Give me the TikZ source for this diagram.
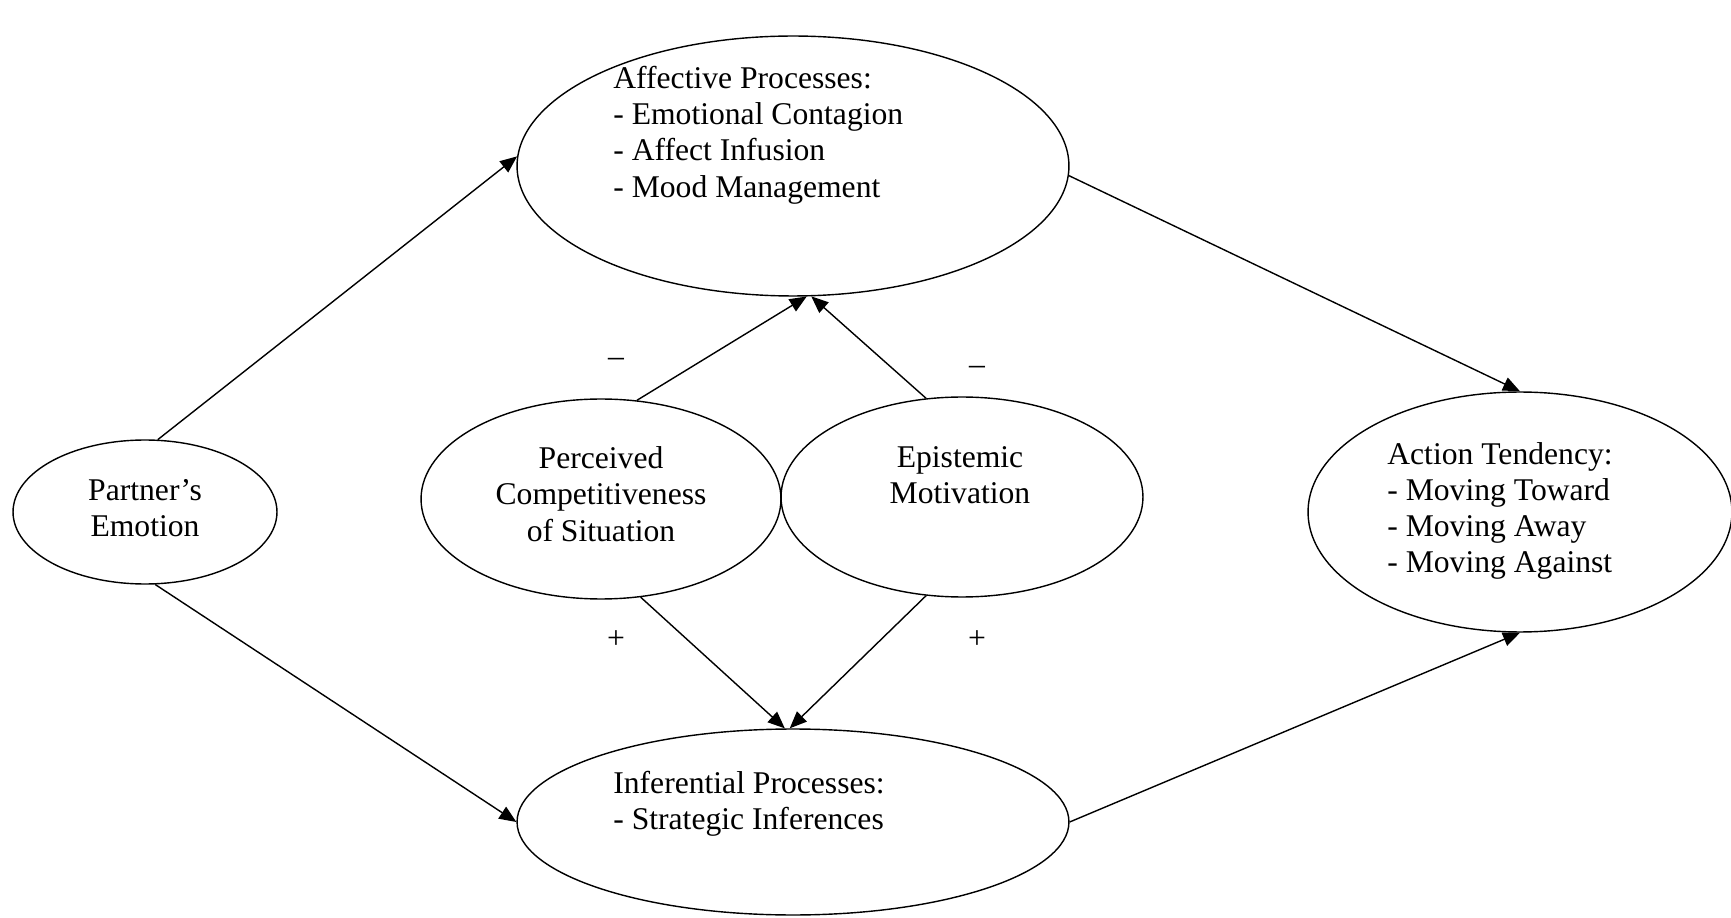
\documentclass[tikz,border=0pt]{standalone}
\usepackage{fontspec}
\setmainfont{Liberation Serif}
\usetikzlibrary{shapes.geometric}
\usetikzlibrary{arrows.meta}

\begin{document}
\begin{tikzpicture}[
        x=0.02cm, y=-0.02cm,
        every node/.style = {font=\fontsize{18}{20.6}\selectfont},
        oval/.style = {draw, ellipse, line width=0.8pt, inner sep=0pt},
        txt/.style = {inner sep=0pt, align=left, anchor=west},
        ctxt/.style = {inner sep=0pt, align=center},
        link/.style = {-{Triangle[length=3.4mm,width=2.8mm]}, line width=0.8pt}
        ]
        \useasboundingbox (0,0) rectangle (1731,918);
        \node[oval, minimum width=11.04cm, minimum height=5.2cm] (affect) at (793,166) {};
        \node[oval, minimum width=5.28cm, minimum height=2.88cm] (partner) at (145,512) {};
        \node[oval, minimum width=7.2cm, minimum height=4cm] (percv) at (601,499) {};
        \node[oval, minimum width=7.24cm, minimum height=4cm] (epist) at (962,497) {};
        \node[oval, minimum width=8.48cm, minimum height=4.8cm] (action) at (1520,512) {};
        \node[oval, minimum width=11.04cm, minimum height=3.72cm] (infer) at (793,822) {};
        % texts
        \node[txt] (affectT) at (613,135) {Affective Processes:\\- Emotional Contagion\\- Affect Infusion\\- Mood Management};
        \node[ctxt] (partnerT) at (145,508) {Partner's\\Emotion};
        \node[ctxt] (percvT) at (601,494) {Perceived\\Competitiveness\\of Situation};
        \node[ctxt] (epistT) at (960,475) {Epistemic\\Motivation};
        \node[txt] (actionT) at (1387,511) {Action Tendency:\\- Moving Toward\\- Moving Away\\- Moving Against};
        \node[txt] (inferT) at (613,804) {Inferential Processes:\\- Strategic Inferences};
        % signs
        \node (minusA) at (616,362) {\textendash};
        \node (minusB) at (977,370) {\textendash};
        \node (plusA) at (616,640) {+};
        \node (plusB) at (977,640) {+};
        % arrows
        \draw[link] (partner.80) -- (affect.178);
        \draw[link] (partner.278) -- (infer.180);
        \draw[link] (affect.358) -- (action.north);
        \draw[link] (infer.0) -- (action.south);
        \draw[link] (percv.70) -- (affect.276);
        \draw[link] (epist.110) -- (affect.278);
        \draw[link] (percv.292) -- (infer.95);
        \draw[link] (epist.250) -- (infer.92);
        \end{tikzpicture}
\end{document}
